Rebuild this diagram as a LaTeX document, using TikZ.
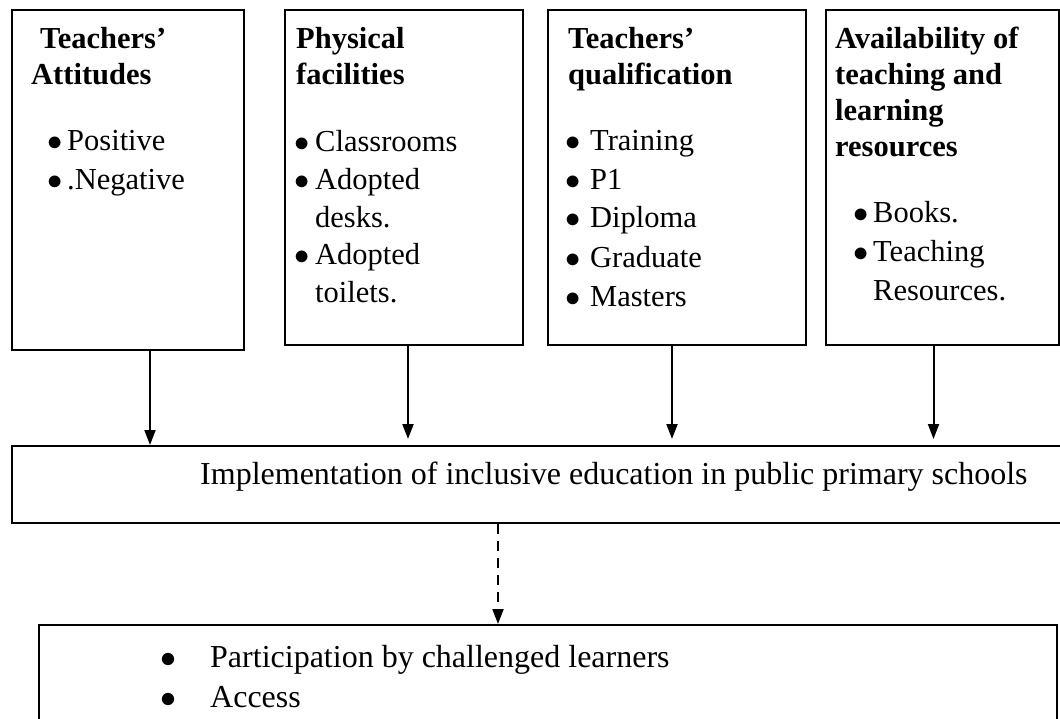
\RequirePackage{fix-cm}
\documentclass[tikz,border=0pt]{standalone}
\usepackage{fontspec}
\setmainfont{Liberation Serif}
\usetikzlibrary{arrows.meta}

% bullet followed by the gap up to the item text
\newcommand{\bul}[1]{\makebox[#1pt][l]{$\bullet$}}

\begin{document}
\begin{tikzpicture}[x=1pt, y=-1pt,
        box/.style={draw=black, line width=2pt, inner sep=0pt, anchor=north west},
        head/.style={anchor=base west, inner sep=0pt, align=left, font=\fontsize{30.5}{36}\selectfont\bfseries},
        items/.style={anchor=base west, inner sep=0pt, align=left, font=\fontsize{30.5}{39}\selectfont},
        maintext/.style={anchor=base west, inner sep=0pt, align=left, font=\fontsize{32}{40}\selectfont},
        arr/.style={-{Triangle[length=15pt, width=11pt]}, line width=2pt}
    ]
        \useasboundingbox (0,0) rectangle (1060,719);
        \clip (0,0) rectangle (1060,719);

        % FACTOR BOXES
        \node[box, minimum width=232pt, minimum height=340pt] (att) at (11,9) {};
        \node[box, minimum width=238pt, minimum height=335pt] (fac) at (284,9) {};
        \node[box, minimum width=258pt, minimum height=335pt] (qual) at (547,9) {};
        \node[box, minimum width=233pt, minimum height=335pt] (res) at (825,9) {};

        % Teachers' attitudes (anchored at the baseline of the last line)
        \node[head] (attHead) at (31,85) {\hspace{9pt}Teachers’\\Attitudes};
        \node[items] (attList) at (47,190) {\bul{20}Positive\\\bul{20}.Negative};

        % Physical facilities
        \node[head] (facHead) at (296,85) {Physical\\facilities};
        \node[items, font=\fontsize{30.5}{38}\selectfont] (facList) at (294,303) {%
            \bul{21}Classrooms\\\bul{21}Adopted\\\hspace{21pt}desks.\\\bul{21}Adopted\\\hspace{21pt}toilets.};

        % Teachers' qualification
        \node[head] (qualHead) at (568,85) {Teachers’\\qualification};
        \node[items] (qualList) at (565,306) {%
            \bul{25}Training\\\bul{25}P1\\\bul{25}Diploma\\\bul{25}Graduate\\\bul{25}Masters};

        % Teaching and learning resources
        \node[head] (resHead) at (835,157) {Availability of\\teaching and\\learning\\resources};
        \node[items] (resList) at (853,301) {\bul{20}Books.\\\bul{20}Teaching\\\hspace{20pt}Resources.};

        % IMPLEMENTATION
        \node[box, minimum width=1064pt, minimum height=77pt] (impl) at (11,445) {};
        \node[maintext] (implText) at (200,484) {Implementation of inclusive education in public primary schools};

        % OUTCOMES
        \node[box, minimum width=1018pt, minimum height=160pt] (out) at (38,624) {};
        \node[maintext] (outList) at (160,707) {\bul{50}Participation by challenged learners\\\bul{50}Access};

        % CONNECTORS
        \draw[arr] ([xshift=22pt]att.south) -- ([xshift=22pt]att.south |- impl.north);
        \draw[arr, shorten >=6pt] ([xshift=4pt]fac.south) -- ([xshift=4pt]fac.south |- impl.north);
        \draw[arr, shorten >=6pt] ([xshift=-5pt]qual.south) -- ([xshift=-5pt]qual.south |- impl.north);
        \draw[arr, shorten >=6pt] ([xshift=-9pt]res.south) -- ([xshift=-9pt]res.south |- impl.north);
        \draw[arr, dash pattern=on 10pt off 7pt] ([xshift=-46pt]impl.south) -- ([xshift=-46pt]impl.south |- out.north);
    \end{tikzpicture}
\end{document}
